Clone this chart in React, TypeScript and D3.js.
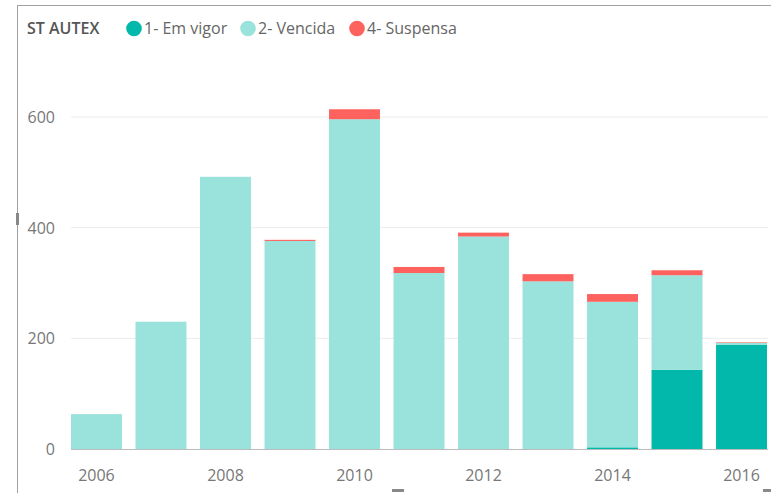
import React from "react";
import * as d3 from "d3";

const years = ["2006", "2007", "2008", "2009", "2010", "2011", "2012", "2013", "2014", "2015", "2016"];
const emVigor = [0, 0, 0, 0, 0, 0, 0, 0, 3, 143, 188];
const vencida = [63, 230, 492, 376, 596, 318, 384, 303, 263, 171, 4];
const suspensa = [0, 0, 0, 2, 18, 11, 7, 13, 14, 9, 1];
const yTicks = [0, 200, 400, 600];
const seriesNames = ["1- Em vigor", "2- Vencida", "4- Suspensa"];
const colors = ["#01B8AA", "#9AE3DC", "#FD625E"];

const width = 771;
const height = 493;
const marginLeft = 71;
const marginRight = 4;
const y0 = 449;

export default function App() {
  const x = d3
    .scaleBand()
    .domain(years)
    .range([marginLeft, width - marginRight])
    .paddingInner(0.21)
    .paddingOuter(0);
  const y = d3.scaleLinear().domain([0, 600]).range([y0, 117]);

  const rows = years.map((yr, i) => ({
    year: yr,
    e: emVigor[i],
    v: vencida[i],
    s: suspensa[i],
  }));
  const stacked = d3.stack<any>().keys(["e", "v", "s"])(rows);

  const font = "'Segoe UI', 'Open Sans', sans-serif";

  // legend positions
  const legendX = [134, 248, 357];

  return (
    <svg width={width} height={height} style={{ position: "absolute", left: 0, top: 0, background: "#fff" }}>
      {/* frame */}
      <line x1={17.5} x2={17.5} y1={5} y2={height} stroke="#a0a0a0" />
      <line x1={17} x2={width} y1={5.5} y2={5.5} stroke="#a0a0a0" />
      <rect x={16} y={213} width={3} height={12} fill="#888" />
      <rect x={392} y={489} width={12} height={3} fill="#888" />
      <rect x={763} y={489} width={8} height={3} fill="#888" />

      {/* legend */}
      <text x={27} y={34} fontFamily={font} fontSize={16} fontWeight={600} fill="#555">
        ST AUTEX
      </text>
      {seriesNames.map((n, i) => (
        <g key={n}>
          <circle cx={legendX[i]} cy={28.5} r={7.8} fill={colors[i]} />
          <text x={legendX[i] + 10} y={34} fontFamily={font} fontSize={16} fill="#666">
            {n}
          </text>
        </g>
      ))}

      {/* grid */}
      {yTicks.map((t) => (
        <g key={t}>
          {t > 0 && (
            <line x1={marginLeft} x2={768} y1={y(t)} y2={y(t)} stroke="#ececec" strokeWidth={1} />
          )}
          <text x={55} y={y(t) + 6} textAnchor="end" fontFamily={font} fontSize={16} fill="#777">
            {t}
          </text>
        </g>
      ))}
      <line x1={marginLeft} x2={768} y1={y0 + 0.5} y2={y0 + 0.5} stroke="#bbb" />

      {/* bars */}
      {stacked.map((layer, li) =>
        layer.map((d: any) => {
          const h = y(d[0]) - y(d[1]);
          if (h <= 0) return null;
          return (
            <rect
              key={li + "-" + d.data.year}
              x={x(d.data.year)}
              y={y(d[1])}
              width={x.bandwidth()}
              height={h}
              fill={colors[li]}
            />
          );
        })
      )}

      {/* x labels */}
      {years
        .filter((_, i) => i % 2 === 0)
        .map((yr) => (
          <text
            key={yr}
            x={(x(yr) as number) + x.bandwidth() / 2}
            y={481}
            textAnchor="middle"
            fontFamily={font}
            fontSize={16}
            fill="#777"
          >
            {yr}
          </text>
        ))}
    </svg>
  );
}
